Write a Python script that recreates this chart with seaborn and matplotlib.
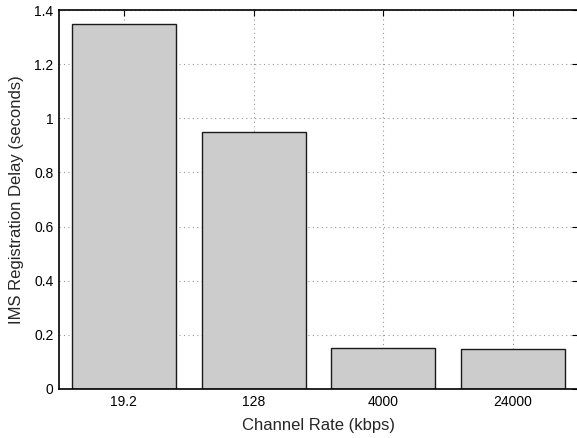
import matplotlib
matplotlib.use("Agg")
import matplotlib.pyplot as plt
import seaborn as sns
import pandas as pd

rates = ["19.2", "128", "4000", "24000"]
delays = [1.35, 0.95, 0.15, 0.148]
yticks = [0, 0.2, 0.4, 0.6, 0.8, 1.0, 1.2, 1.4]
ytick_labels = ["0", "0.2", "0.4", "0.6", "0.8", "1", "1.2", "1.4"]

sns.set_style("white")
plt.rcParams['font.family'] = ['Liberation Sans', 'DejaVu Sans']

df = pd.DataFrame({"rate": rates, "delay": delays})

fig = plt.figure(figsize=(5.77, 4.38), dpi=100)
ax = fig.add_axes([59/577, 1 - 389/438, 519/577, 379/438])
sns.barplot(data=df, x="rate", y="delay", order=rates, color="#cccccc",
            edgecolor="#1a1a1a", linewidth=1.0, width=0.8, saturation=1,
            ax=ax, zorder=2)
ax.set_xlim(-0.5, 3.5)
ax.set_ylim(0, 1.4)
ax.set_yticks(yticks)
ax.set_yticklabels(ytick_labels)
ax.grid(True, linestyle=(0, (1, 3)), color="#999999", linewidth=0.8, zorder=0)
ax.set_axisbelow(True)
ax.tick_params(direction="in", length=4, width=0.8, top=True, right=True,
               labelsize=10, colors="black", pad=4)
for s in ax.spines.values():
    s.set_visible(True)
    s.set_color("black")
    s.set_linewidth(1.2)
ax.set_xlabel("Channel Rate (kbps)", fontsize=12, labelpad=7)
ax.set_ylabel("IMS Registration Delay (seconds)", fontsize=12, labelpad=7)
fig.savefig("out.png", dpi=100)
